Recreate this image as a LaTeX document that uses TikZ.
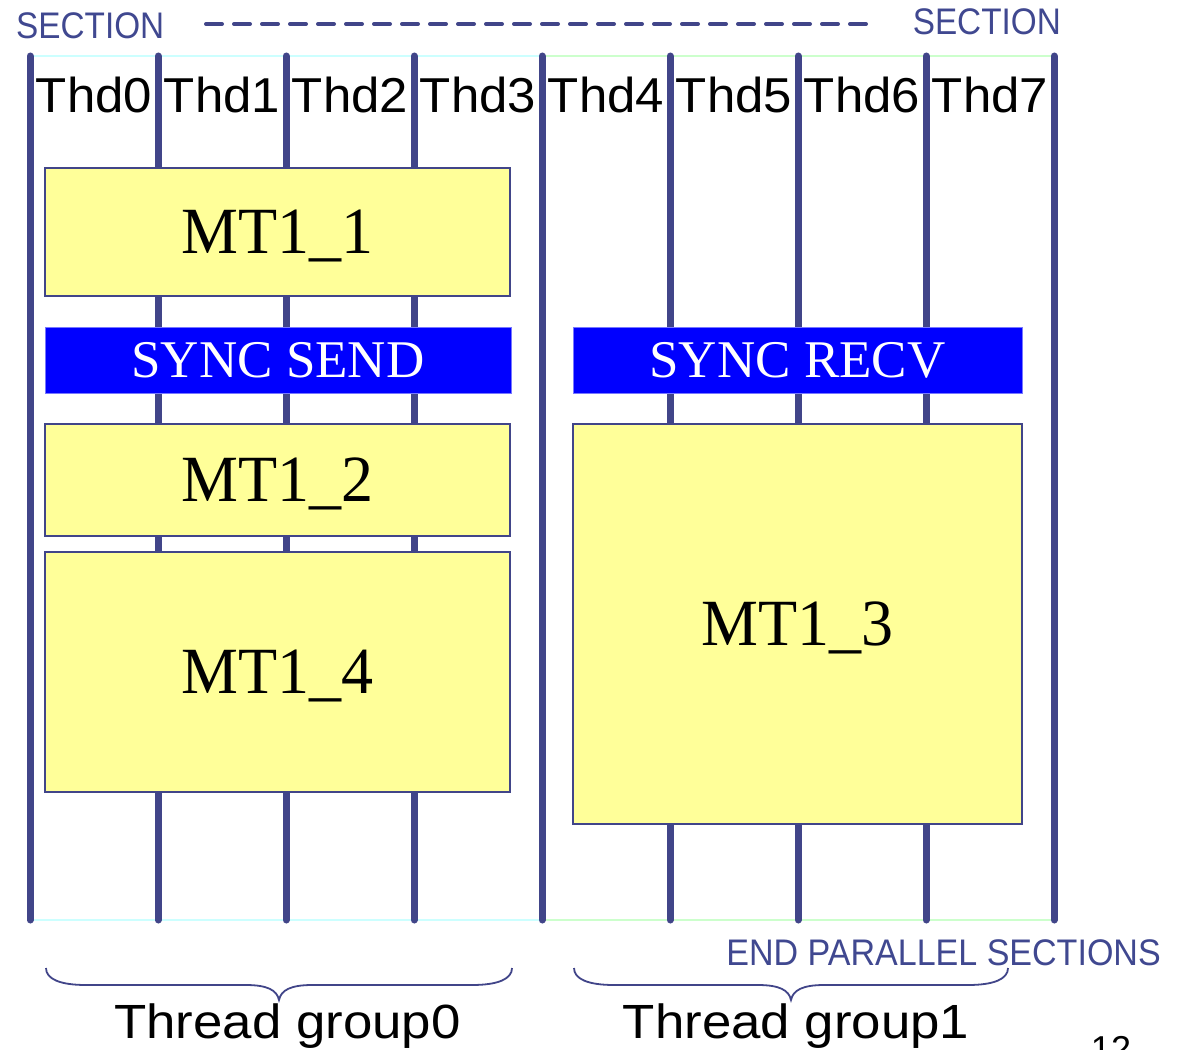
\documentclass[tikz,border=0pt]{standalone}
\usepackage{fontspec}
\usepackage{graphicx}
\setmainfont{Liberation Serif}
\newfontfamily\arialfam{Liberation Sans}

\definecolor{threadline}{RGB}{65,69,137}
\definecolor{sectext}{RGB}{64,72,144}
\definecolor{taskfill}{RGB}{255,255,153}
\definecolor{syncfill}{RGB}{0,0,255}
\definecolor{syncedge}{RGB}{120,120,255}
\definecolor{railcyan}{RGB}{204,255,255}
\definecolor{railgreen}{RGB}{204,255,204}

% curly brace under a thread group: left end, tip, right end
\newcommand\grpbrace[3]{%
  \draw[bracepath] (#1,968) .. controls (#1,979) and ({#1+14},985) .. ({#1+40},985)
    -- ({#2-33},985) .. controls ({#2-12},985) and ({#2-2},990) .. (#2,1000)
    .. controls ({#2+2},990) and ({#2+12},985) .. ({#2+33},985)
    -- ({#3-40},985) .. controls ({#3-14},985) and (#3,979) .. (#3,968);}

\begin{document}
\begin{tikzpicture}[x=1pt,y=-1pt,
  threadln/.style={line width=7pt, draw=threadline, line cap=round},
  rail/.style={line width=2.2pt},
  taskbox/.style={draw=threadline, line width=1.8pt, fill=taskfill, inner sep=0pt,
    text height=43.7pt, text depth=0pt, font=\fontsize{66}{66}\selectfont},
  syncbox/.style={draw=syncedge, line width=1pt, fill=syncfill, text=white, inner sep=0pt,
    text height=35pt, text depth=0pt, font=\fontsize{53}{53}\selectfont},
  thdlabel/.style={anchor=base, inner sep=0pt, font=\arialfam\fontsize{49}{49}\selectfont},
  seclabel/.style={inner sep=0pt, text=sectext, font=\arialfam\fontsize{37}{37}\selectfont},
  grouplabel/.style={anchor=base, inner sep=0pt, font=\arialfam\fontsize{48}{48}\selectfont},
  bracepath/.style={draw=threadline, line width=1.8pt},
]
\useasboundingbox (0,0) rectangle (1180,1049);

% thread end points
\foreach \i in {0,...,8} {
  \coordinate (top\i) at ({30+128*\i},56);
  \coordinate (bot\i) at ({30+128*\i},920);
}

% section rails (start and end of the parallel sections)
\draw[rail, draw=railcyan] (top0) -- (top4);
\draw[rail, draw=railgreen] (top4) -- (top8);
\draw[rail, draw=railcyan] (bot0) -- (bot4);
\draw[rail, draw=railgreen] (bot4) -- (bot8);

% thread lines
\foreach \i in {0,...,8} \draw[threadln] (top\i) -- (bot\i);

% thread labels
\foreach \i in {0,...,7}
  \node[thdlabel] (thd\i) at ({94+128*\i},112) {\scalebox{1.04}[1]{Thd\i}};

% section markers
\coordinate (dashL) at (206,24);
\coordinate (dashR) at (866,24);
\draw[draw=threadline, line width=4pt, line cap=round, dash pattern=on 16pt off 12pt] (dashL) -- (dashR);
\node[seclabel, anchor=base west] (secL) at (16,38) {\scalebox{0.9}[1]{SECTION}};
\node[seclabel, anchor=base east] (secR) at (1061,35) {\scalebox{0.9}[1]{SECTION}};
\node[seclabel, anchor=base east] (endsec) at (1161,965) {\scalebox{0.92}[1]{END PARALLEL SECTIONS}};

% thread group 0
\node[taskbox, minimum width=465pt, minimum height=128pt] (mt11) at (277.5,232) {\scalebox{0.97}[1]{MT1\_1}};
\node[syncbox, minimum width=466pt, minimum height=66pt] (send) at (278,360) {SYNC SEND};
\node[taskbox, minimum width=465pt, minimum height=112pt] (mt12) at (277.5,480) {\scalebox{0.97}[1]{MT1\_2}};
\node[taskbox, minimum width=465pt, minimum height=240pt] (mt14) at (277.5,672) {\scalebox{0.97}[1]{MT1\_4}};

% thread group 1
\node[syncbox, minimum width=449pt, minimum height=66pt] (recv) at (797.5,360) {SYNC RECV};
\node[taskbox, minimum width=449pt, minimum height=400pt] (mt13) at (797.5,624) {\scalebox{0.97}[1]{MT1\_3}};

% group braces and names
\grpbrace{46}{279}{512}
\grpbrace{574}{791}{1008}
\node[grouplabel] (grp0) at (287.5,1038) {\scalebox{1.1}[1]{Thread group0}};
\node[grouplabel] (grp1) at (796,1038) {\scalebox{1.1}[1]{Thread group1}};

% page number, running off the lower edge
\node[anchor=base, inner sep=0pt, font=\arialfam\fontsize{36}{36}\selectfont] (pgnum) at (1111,1061) {12};
\end{tikzpicture}
\end{document}
